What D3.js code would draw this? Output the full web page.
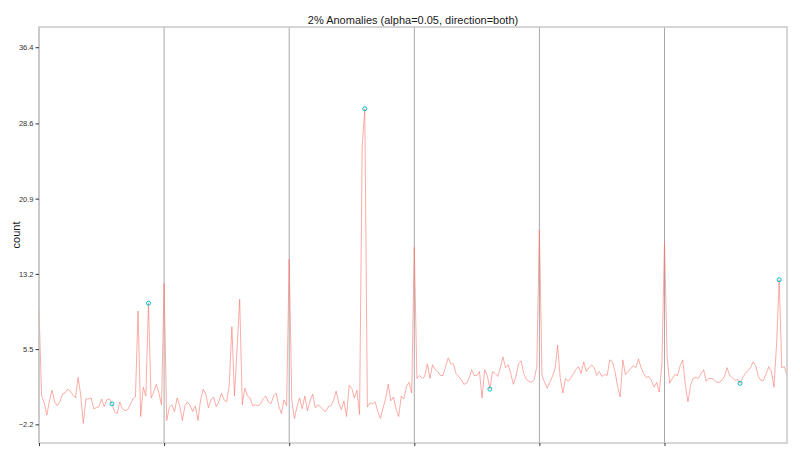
<!DOCTYPE html>
<html>
<head>
<meta charset="utf-8">
<script src="https://cdn.jsdelivr.net/npm/d3@7"></script>
<style>
  html, body { margin: 0; padding: 0; background: #ffffff; }
  svg { display: block; }
</style>
</head>
<body>
<div id="chart"></div>
<script>
// ---- data ----
const titleText = "2% Anomalies (alpha=0.05, direction=both)";
const yLabel = "count";
const startTime = Date.UTC(2015, 0, 1, 0, 0);   // first observation
const stepMinutes = 30;                           // sampling interval
const yTicks = [-2.2, 5.5, 13.2, 20.9, 28.6, 36.4];
const yDomain = [-4.11, 38.47];

const day0 = [9.5, 0.7, 0.0, -1.25, 0.2, 1.3, 0.1, -0.3, 0.1, 0.9,
  1.0, 1.4, 1.2, 0.8, 0.5, 2.6, 0.8, -2.1, 0.4, 0.4,
  0.5, -0.6, -0.5, -0.4, 0.4, -0.4, 0.3, 0.4, -0.1, -0.9,
  -1.1, 0.1, -0.6, -0.8, -0.7, -0.2, 0.4, 0.6, 9.4, -1.4,
  1.6, 0.7, 10.2, 0.5, 1.1, 1.9, 1.0, -0.2];
const day1 = [12.2, -1.8, -0.5, -0.2, -0.9, 0.5, -0.3, -1.8, -0.3, 0.1,
  -0.3, -0.9, -0.3, -1.8, 0.3, 1.4, 0.9, -0.5, 0.3, 0.6,
  -0.4, 0.1, 1.0, 0.3, 0.1, 1.8, 7.8, 0.7, 5.5, 10.6,
  -0.2, 1.5, 0.7, 0.5, -0.3, -0.2, -0.3, -0.1, 0.4, 0.7,
  0.1, -0.1, 0.7, 1.0, -0.3, -1.1, 0.3, -0.3];
const day2 = [14.7, 0.2, -1.6, -0.4, 0.5, -0.6, 0.7, -0.8, 0.2, 0.9,
  -0.5, -0.2, -0.4, -0.7, -0.9, -0.4, -0.3, 0.2, 1.2, 0.0,
  -0.7, 0.2, -1.4, 1.8, 1.5, 0.5, 1.3, -1.2, 26.2, 30.1,
  -0.4, 0.0, -0.1, 0.1, -0.9, -1.6, -0.5, 0.4, 1.9, 0.2,
  0.6, -0.6, -1.4, 0.7, 0.4, 1.7, 2.1, 1.0];
const day3 = [15.9, 2.5, 2.8, 2.5, 2.7, 4.0, 2.5, 3.9, 3.4, 3.2,
  2.8, 2.8, 3.7, 4.6, 4.0, 4.0, 3.0, 2.7, 2.4, 1.9,
  2.0, 2.5, 3.4, 2.8, 2.8, 3.2, 0.5, 3.4, 2.8, 1.4,
  3.2, 3.0, 2.7, 3.6, 4.7, 3.6, 3.9, 3.0, 1.9, 2.7,
  4.0, 4.3, 3.0, 2.4, 2.2, 2.1, 2.4, 3.7];
const day4 = [17.7, 2.8, 2.1, 1.5, 2.1, 2.7, 3.5, 5.9, 2.5, 1.0,
  2.5, 2.2, 2.5, 3.0, 3.4, 3.7, 3.0, 4.2, 3.2, 3.6,
  3.9, 3.6, 2.8, 3.2, 2.7, 2.9, 2.8, 4.4, 4.2, 3.2,
  1.7, 0.6, 4.4, 2.9, 3.2, 3.5, 3.8, 3.6, 4.5, 3.6,
  3.0, 2.6, 2.7, 2.3, 1.6, 2.1, 1.1, 4.0];
const day5 = [16.5, 4.7, 2.0, 2.5, 2.9, 2.8, 3.8, 4.4, 1.8, 0.1,
  1.8, 2.5, 2.6, 2.5, 3.0, 3.4, 2.2, 2.5, 2.5, 2.4,
  2.1, 2.1, 2.3, 2.7, 3.6, 2.8, 2.6, 2.3, 2.4, 2.0,
  2.6, 3.0, 3.3, 3.6, 4.2, 3.8, 2.7, 2.3, 2.3, 3.0,
  3.7, 3.2, 1.6, 6.0, 12.6, 3.6, 3.7, 2.8];
const anomalyIndex = [28, 42, 125, 173, 269, 284];

// ---- build series ----
const counts = [].concat(day0, day1, day2, day3, day4, day5);
const series = counts.map((v, i) => ({ t: new Date(startTime + i * stepMinutes * 60000), v: v }));
const anomalies = anomalyIndex.map(i => series[i]);

// ---- layout ----
const W = 800, H = 468;
const M = { top: 27, right: 13, bottom: 25, left: 39 };

const svg = d3.select("#chart").append("svg")
  .attr("width", W).attr("height", H)
  .style("font-family", "'Liberation Sans', Arial, sans-serif");

const x = d3.scaleUtc()
  .domain(d3.extent(series, d => d.t))
  .range([M.left, W - M.right]);
const y = d3.scaleLinear()
  .domain(yDomain)
  .range([H - M.bottom, M.top]);

const dayTicks = d3.utcDay.range(series[0].t, new Date(+series[series.length - 1].t + 1));

// day separator lines
svg.append("g").selectAll("line")
  .data(dayTicks)
  .join("line")
  .attr("x1", d => x(d)).attr("x2", d => x(d))
  .attr("y1", M.top).attr("y2", H - M.bottom)
  .attr("stroke", "#a8a8a8")
  .attr("stroke-width", 1);

// series line
const line = d3.line().x(d => x(d.t)).y(d => y(d.v));
svg.append("path")
  .datum(series)
  .attr("d", line)
  .attr("fill", "none")
  .attr("stroke", "#F8766D")
  .attr("stroke-opacity", 0.6)
  .attr("stroke-width", 1)
  .attr("stroke-linejoin", "round");

// anomalies
svg.append("g").selectAll("circle")
  .data(anomalies)
  .join("circle")
  .attr("cx", d => x(d.t))
  .attr("cy", d => y(d.v))
  .attr("r", 2)
  .attr("fill", "none")
  .attr("stroke", "#00BFC4")
  .attr("stroke-width", 1);

// panel frame
svg.append("rect")
  .attr("x", M.left).attr("y", M.top)
  .attr("width", W - M.left - M.right)
  .attr("height", H - M.top - M.bottom)
  .attr("fill", "none")
  .attr("stroke", "#c8c8c8")
  .attr("stroke-width", 1.5);

// y axis
const yAxis = svg.append("g")
  .attr("transform", `translate(${M.left},0)`)
  .call(d3.axisLeft(y).tickValues(yTicks).tickFormat(d3.format(".1f")).tickSize(3.5).tickPadding(2));
yAxis.select(".domain").remove();
yAxis.selectAll(".tick line").attr("stroke", "#333");
yAxis.selectAll(".tick text").attr("fill", "#333").style("font-size", "7.5px")
  .style("font-family", "'Liberation Sans', Arial, sans-serif");

// x axis (ticks only)
const xAxis = svg.append("g")
  .attr("transform", `translate(0,${H - M.bottom})`)
  .call(d3.axisBottom(x).tickValues(dayTicks).tickFormat("").tickSize(3));
xAxis.select(".domain").remove();
xAxis.selectAll(".tick line").attr("stroke", "#333");

// title
svg.append("text")
  .attr("x", (M.left + W - M.right) / 2)
  .attr("y", 24)
  .attr("text-anchor", "middle")
  .attr("fill", "#1a1a1a")
  .style("font-size", "11px")
  .text(titleText);

// y label
svg.append("text")
  .attr("transform", `translate(20,${(M.top + H - M.bottom) / 2}) rotate(-90)`)
  .attr("text-anchor", "middle")
  .attr("fill", "#1a1a1a")
  .style("font-size", "11px")
  .text(yLabel);
</script>
</body>
</html>
